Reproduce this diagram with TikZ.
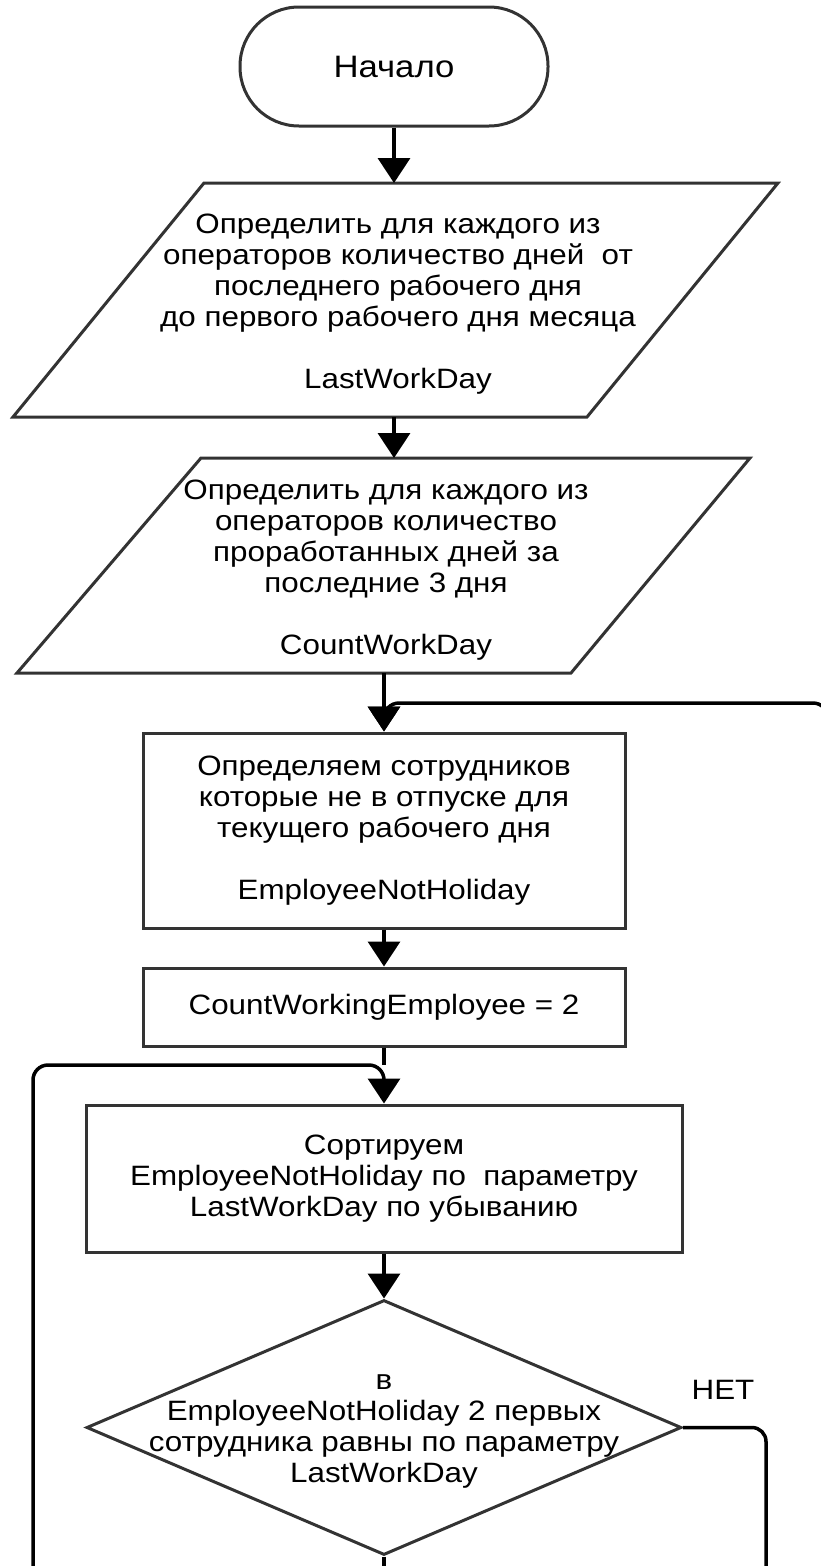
\documentclass[tikz,border=0pt]{standalone}
\usepackage{fontspec}
\setmainfont{Liberation Sans}[FakeStretch=1.12]
\usetikzlibrary{shapes.geometric, arrows.meta}

\begin{document}
\begin{tikzpicture}[x=1pt, y=-1pt,
  shapeline/.style={draw=black!80, line width=3pt},
  txt/.style={font=\fontsize{28}{31}\selectfont, align=center, inner sep=0pt},
  conn/.style={draw=black, line width=3.5pt},
  arr/.style={conn, -{Triangle[width=32pt,length=25pt]}},
  procbox/.style={shapeline, rectangle, inner sep=0pt, align=center, font=\fontsize{28}{31}\selectfont},
]
\clip (0,0) rectangle (821,1566);

% start terminator
\node[procbox, rounded corners=59pt, minimum width=308pt, minimum height=119pt,
      font=\fontsize{31}{35}\selectfont] (start) at (394,66.5) {Начало};

% first data block
\draw[shapeline] (204,183) coordinate (p1tl) -- (778,183) -- (587,417) -- (13,417) coordinate (p1bl) -- cycle;
\node[txt] (p1) at (398,304) {Определить для каждого из\\
  операторов количество дней \ от\\
  последнего рабочего дня\\
  до первого рабочего дня месяца\\[31pt]
  LastWorkDay};

% second data block
\draw[shapeline] (201,458) coordinate (p2tl) -- (750,458) -- (571,673) -- (17,673) coordinate (p2bl) -- cycle;
\node[txt] (p2) at (386,570) {Определить для каждого из\\
  операторов количество\\
  проработанных дней за\\
  последние 3 дня\\[31pt]
  CountWorkDay};

% process blocks
\node[procbox, minimum width=482pt, minimum height=195pt] (b1) at (384,830.5)
  {Определяем сотрудников\\ которые не в отпуске для\\ текущего рабочего дня\\[31pt] EmployeeNotHoliday};
\node[procbox, minimum width=482pt, minimum height=78pt] (b2) at (384,1007)
  {CountWorkingEmployee = 2};
\node[procbox, minimum width=596pt, minimum height=147pt] (b3) at (384,1178.5)
  {Сортируем\\ EmployeeNotHoliday по \ параметру\\ LastWorkDay по убыванию};

% decision
\node[shapeline, diamond, inner sep=0pt, minimum width=595pt, minimum height=255pt] (d) at (384,1427.5) {};
\node[txt] (dtext) at (384,1431) {в\\ EmployeeNotHoliday 2 первых\\ сотрудника равны по параметру\\ LastWorkDay};
\node[txt] (no) at (723,1390) {НЕТ};

% loop return points
\coordinate (loopR) at (828,703);
\coordinate (loopL) at (33,1065);

% connectors
\draw[arr] (start.south) -- (start.south |- p1tl);
\draw[arr] (start.south |- p1bl) -- (start.south |- p2tl);
\draw[arr] (b1.north |- p2bl) -- (b1.north);
\draw[arr, rounded corners=15pt] (828,800) -- (loopR) -- (b1.north |- loopR) -- (b1.north);
\draw[arr] (b1.south) -- (b2.north);
\draw[conn] (b2.south) -- (b3.north |- loopL);
\draw[arr, rounded corners=15pt] (33,1580) -- (loopL) -- (b3.north |- loopL) -- (b3.north);
\draw[arr] (b3.south) -- (d.north);
\draw[conn, rounded corners=14pt] (d.east) -- (766,1427.5) -- (766,1580);
\draw[conn] (d.south) -- (384,1580);
\end{tikzpicture}
\end{document}
